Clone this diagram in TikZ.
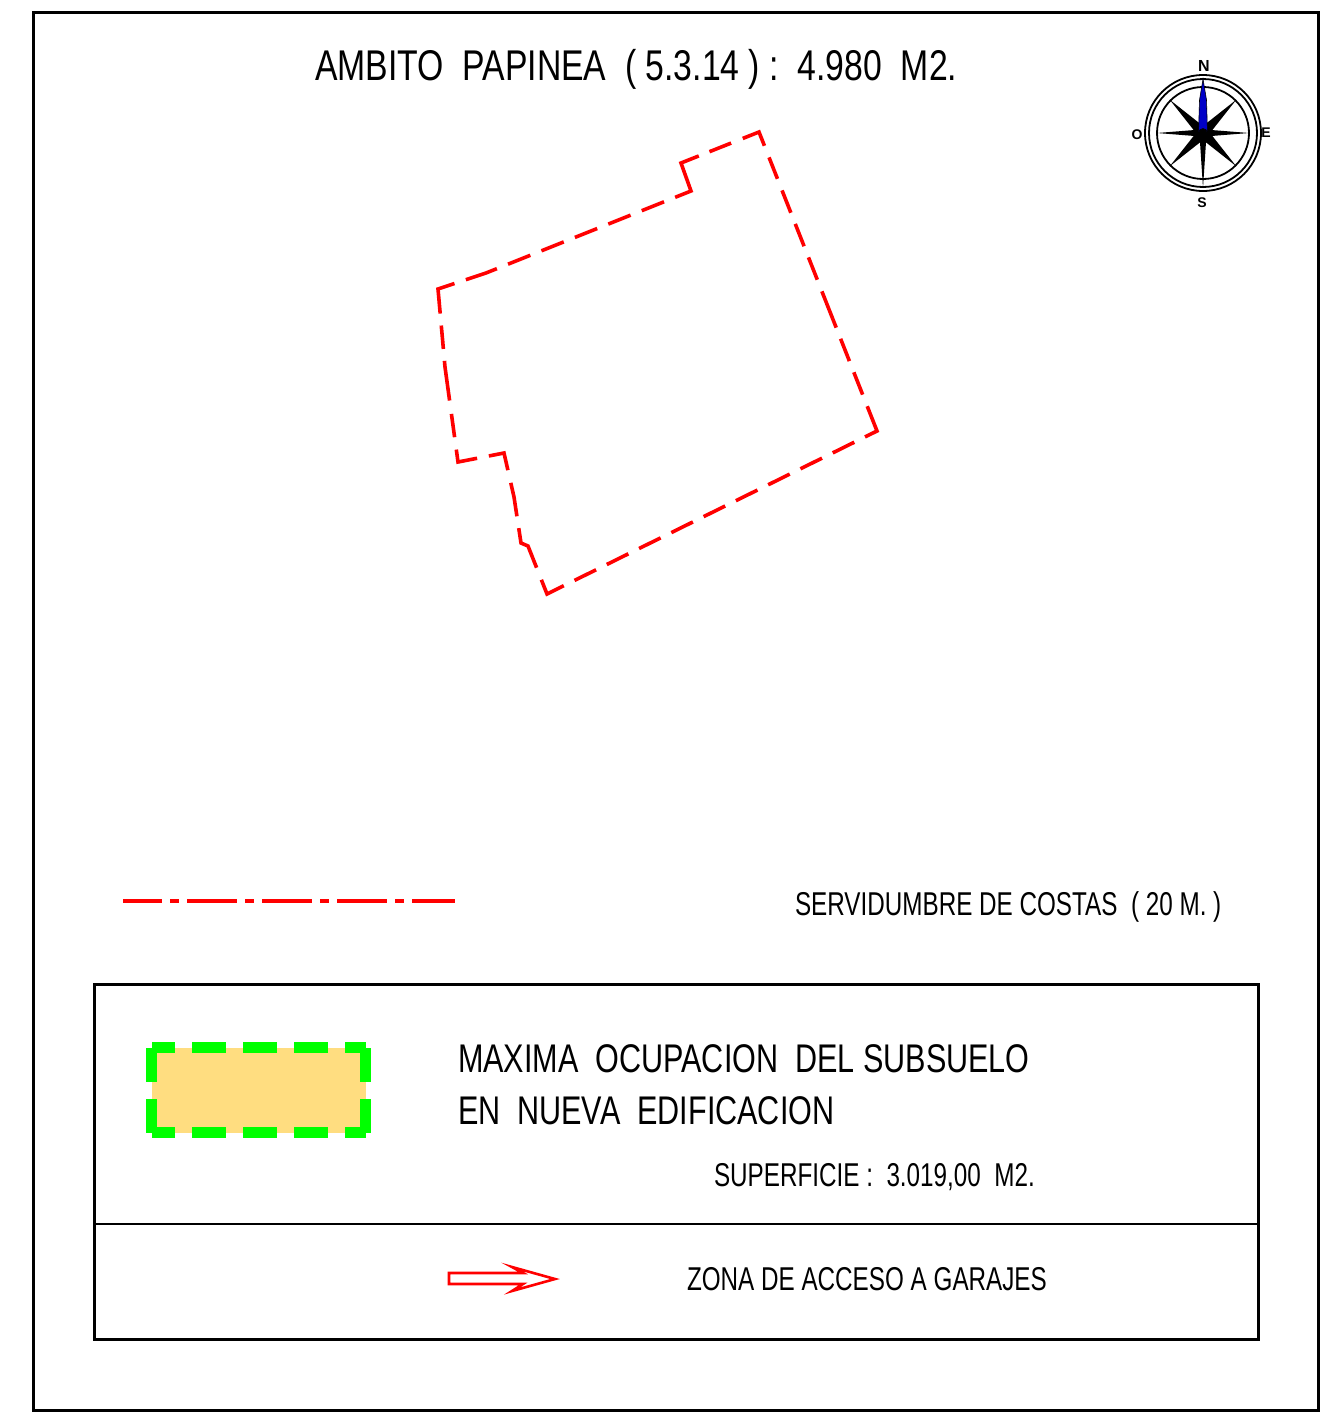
\documentclass[tikz,border=0pt]{standalone}
\usepackage{fontspec}
\usetikzlibrary{calc}
\newfontfamily\titlefont[FakeStretch=0.785]{Liberation Sans}
\newfontfamily\legendfont[FakeStretch=0.764]{Liberation Sans}
\newfontfamily\smallfont[FakeStretch=0.735]{Liberation Sans}
\newfontfamily\compassfont{Liberation Sans}
\definecolor{zonefill}{RGB}{255,221,128}
\definecolor{zonegreen}{RGB}{0,255,0}
\definecolor{needleblue}{RGB}{0,0,200}

\begin{document}
\begin{tikzpicture}[x=1pt,y=-1pt,
		every node/.style = {inner sep=0pt, outer sep=0pt, anchor=base west, text=black},
		frameline/.style = {draw=black, line width=3pt},
		limitline/.style = {draw=red, line width=3.6pt, line join=miter, dash pattern=
			on 34pt off 11.5pt on 23.3pt off 12.5pt on 32.3pt
			off 12.5pt on 23pt off 12.5pt on 24pt off 12pt on 24pt off 12pt on 24pt off 12.5pt on 39pt
			off 12pt on 24pt off 12pt on 24pt off 12.5pt on 40pt
			off 12pt on 24pt off 12pt on 24pt off 12pt on 24pt off 12pt on 24pt off 12pt on 24pt
			off 12pt on 24pt off 12pt on 24pt off 12pt on 24pt off 12pt on 24pt off 12pt on 34pt
			off 13pt on 46pt off 12pt on 34pt off 13pt on 33pt off 12pt on 32pt
			off 12.5pt on 23.5pt off 13.5pt on 40pt off 12pt on 23.5pt off 12pt on 42pt
			off 12pt on 33pt off 12pt on 24pt off 12pt on 24pt off 12pt on 24pt off 12pt on 24pt
			off 12pt on 24pt off 12pt on 40pt off 40pt},
		coastline/.style = {draw=red, line width=3.4pt, dash pattern=on 50pt off 8pt on 8.5pt off 8.5pt, dash phase=11pt},
		greenh/.style = {draw=zonegreen, line width=11pt, dash pattern=on 34pt off 17pt, dash phase=11pt},
		greenv/.style = {draw=zonegreen, line width=11pt, dash pattern=on 34pt off 17pt},
		titletext/.style = {font=\titlefont\fontsize{43}{43}\selectfont},
		legendtext/.style = {font=\legendfont\fontsize{40}{40}\selectfont},
		smalltext/.style = {font=\smallfont\fontsize{33}{33}\selectfont},
		compasstext/.style = {font=\compassfont\bfseries\fontsize{14}{14}\selectfont, anchor=center}
	]
	\useasboundingbox (0,0) rectangle (1336,1414);

	% frames
	\draw[frameline] (33,12) rectangle (1318,1410);
	\draw[frameline] (94,984) rectangle (1258,1339);
	\draw[black, line width=1.8pt] (94,1224) -- (1258,1224);

	\node[titletext] (title) at (315,80.5) {AMBITO\ \ PAPINEA\ \ ( 5.3.14 ) :\ \ 4.980\ \ M2.};

	% plot boundary
	\draw[limitline] (686,177) -- (681,163) -- (759,132) -- (877,431) -- (547,594) -- (528,546)
		-- (521,543) -- (514,497) -- (504,453) -- (458,462) -- (445,367) -- (438,289) -- (486,273)
		-- (691,191) -- cycle;

	% compass
	\coordinate (centre) at (1203,133);
	\draw[black, line width=1.8pt] (centre) circle (58);
	\draw[black, line width=1.8pt] (centre) circle (54);
	\draw[black, line width=1.8pt] (centre) circle (46);
	\foreach \ang/\len/\wid/\rad in {0/46/33/6,45/47/45/7,90/55/33/6,135/47/45/7,180/46/33/6,225/47/45/7,270/46/33/6,315/47/45/7} {
		\fill[black] ($(centre)+(\ang:\len)$) -- ($(centre)+(\ang+\wid:\rad)$) -- (centre)
			-- ($(centre)+(\ang-\wid:\rad)$) -- cycle;
	}
	\fill[needleblue, draw=black, line width=0.6pt] (1203,79) -- (1206.5,100) -- (1207.5,133)
		arc[start angle=0, end angle=-180, radius=4.5] -- (1199.5,100) -- cycle;
	\node[compasstext, font=\compassfont\bfseries\fontsize{16}{16}\selectfont] (north) at (1204,66) {N};
	\node[compasstext] (west) at (1137,135) {O};
	\node[compasstext] (east) at (1266,133) {E};
	\node[compasstext] (south) at (1202,203) {S};

	% coast line
	\draw[coastline] (123,901) -- (455,901);
	\node[smalltext] (coast) at (795,915) {SERVIDUMBRE DE COSTAS\ \ ( 20 M. )};

	% legend
	\fill[zonefill] (152,1048) rectangle (366,1133);
	\draw[greenh] (152,1047.5) -- (366,1047.5);
	\draw[greenh] (152,1132.5) -- (366,1132.5);
	\draw[greenv] (151.5,1048) -- (151.5,1133);
	\draw[greenv] (365.5,1048) -- (365.5,1133);

	\node[legendtext] (maxima) at (458,1072.5) {MAXIMA\ \ OCUPACION\ \ DEL SUBSUELO};
	\node[legendtext] (nueva) at (458,1124.5) {EN\ \ NUEVA\ \ EDIFICACION};
	\node[smalltext] (area) at (714,1186) {SUPERFICIE :\ \ 3.019,00\ \ M2.};

	\draw[red, line width=2.6pt, line join=miter] (449,1273) -- (523,1273) -- (512,1267) -- (555,1279)
		-- (512,1291) -- (523,1284) -- (449,1284) -- cycle;
	\node[smalltext] (garage) at (687,1290) {ZONA DE ACCESO A GARAJES};
\end{tikzpicture}
\end{document}
